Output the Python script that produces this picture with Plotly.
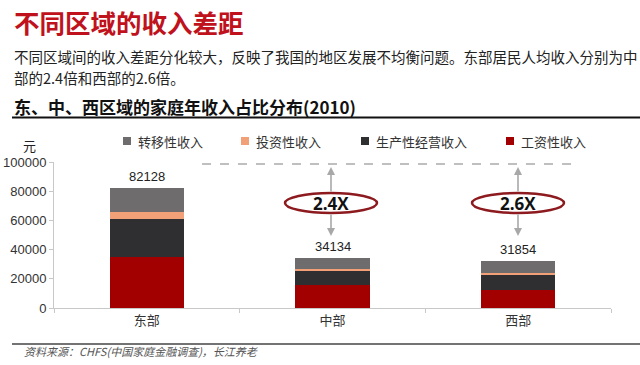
import plotly.graph_objects as go

regions = ["东部", "中部", "西部"]
wage = [34900, 15500, 12000]          # 工资性收入
production = [25900, 10000, 11200]    # 生产性经营收入
investment = [4900, 1000, 900]        # 投资性收入
transfer = [16428, 7634, 7754]        # 转移性收入
totals = [82128, 34134, 31854]
ratios = ["2.4X", "2.6X"]

W, H = 640, 365
L, R, T, B = 54, 29, 162, 57
PW, PH = W - L - R, H - T - B

def px(x):
    return (x - L) / PW

def py(y):
    return (H - B - y) / PH

FONT = "Noto Sans CJK SC"
NUMFONT = "Liberation Sans"

fig = go.Figure()
series = [
    ("工资性收入", wage, "#a20000"),
    ("生产性经营收入", production, "#2f2e30"),
    ("投资性收入", investment, "#f1a077"),
    ("转移性收入", transfer, "#6e6c6c"),
]
for name, vals, col in series:
    fig.add_trace(go.Bar(x=regions, y=vals, name=name, marker=dict(color=col, line=dict(width=0)),
                         width=0.4, showlegend=False))

annotations = []
shapes = []

# manual legend (order as in reference)
legend_pos = {"转移性收入": 127, "投资性收入": 245, "生产性经营收入": 365, "工资性收入": 510}
for name, vals, col in series:
    cx = legend_pos[name]
    shapes.append(dict(type="rect", xref="paper", yref="paper", x0=px(cx - 4), x1=px(cx + 4),
                       y0=py(145), y1=py(137), fillcolor=col, line=dict(width=0)))
    annotations.append(dict(x=px(cx + 9), y=py(141), xref="paper", yref="paper", text=name,
                            showarrow=False, xanchor="left", yanchor="middle",
                            font=dict(size=13, color="#333", family=FONT)))

for r, t in zip(regions, totals):
    annotations.append(dict(x=r, y=t, xref="x", yref="y", text=str(t), showarrow=False,
                            yanchor="bottom", yshift=2, font=dict(size=13, color="#222", family=NUMFONT)))

# header texts
annotations += [
    dict(x=px(12), y=py(21), xref="paper", yref="paper", xanchor="left", yanchor="middle",
         text="<b>不同区域的收入差距</b>", showarrow=False,
         font=dict(size=25.5, color="#c0121c", family=FONT)),
    dict(x=px(12), y=py(56), xref="paper", yref="paper", xanchor="left", yanchor="middle",
         text="不同区域间的收入差距分化较大，反映了我国的地区发展不均衡问题。东部居民人均收入分别为中",
         showarrow=False, font=dict(size=14.5, color="#222", family=FONT)),
    dict(x=px(12), y=py(78), xref="paper", yref="paper", xanchor="left", yanchor="middle",
         text="部的2.4倍和西部的2.6倍。", showarrow=False, font=dict(size=14.5, color="#222", family=FONT)),
    dict(x=px(12), y=py(106), xref="paper", yref="paper", xanchor="left", yanchor="middle",
         text="<b>东、中、西区域的家庭年收入占比分布(2010)</b>", showarrow=False,
         font=dict(size=17, color="#111", family=FONT)),
    dict(x=px(29), y=py(145), xref="paper", yref="paper", xanchor="center", yanchor="middle",
         text="元", showarrow=False, font=dict(size=13, color="#222", family=FONT)),
    dict(x=px(22), y=py(351), xref="paper", yref="paper", xanchor="left", yanchor="middle",
         text="<i>资料来源：CHFS(中国家庭金融调查)，长江养老</i>", showarrow=False,
         font=dict(size=11, color="#555", family=FONT)),
]

shapes += [
    dict(type="line", xref="paper", yref="paper", x0=px(12), x1=px(640), y0=py(117.5), y1=py(117.5),
         line=dict(color="#111", width=2)),
    dict(type="line", xref="paper", yref="paper", x0=px(12), x1=px(640), y0=py(344), y1=py(344),
         line=dict(color="#444", width=1.5)),
    dict(type="line", xref="paper", yref="paper", x0=px(202), x1=px(571), y0=py(164), y1=py(164),
         line=dict(color="#aaaaaa", width=1.6, dash="dash")),
]

for cx, txt in zip([331, 518], ratios):
    shapes.append(dict(type="circle", xref="paper", yref="paper",
                       x0=px(cx - 46), x1=px(cx + 46), y0=py(213), y1=py(193),
                       fillcolor="white", line=dict(color="#8c1a1e", width=2.5)))
    annotations.append(dict(x=px(cx), y=py(203), xref="paper", yref="paper", text="<b>" + txt + "</b>",
                            showarrow=False, xanchor="center", yanchor="middle",
                            font=dict(size=17, color="#111", family="Open Sans")))
    annotations.append(dict(x=px(cx), y=py(167), xref="paper", yref="paper", text="", showarrow=True,
                            ax=0, ay=26, arrowhead=2, arrowsize=1, arrowwidth=1.6, arrowcolor="#a8a8a8",
                            standoff=0, startstandoff=0))
    annotations.append(dict(x=px(cx), y=py(236), xref="paper", yref="paper", text="", showarrow=True,
                            ax=0, ay=-23, arrowhead=2, arrowsize=1, arrowwidth=1.6, arrowcolor="#a8a8a8",
                            standoff=0, startstandoff=0))

fig.update_layout(
    width=W, height=H,
    margin=dict(l=L, r=R, t=T, b=B, autoexpand=False),
    paper_bgcolor="white", plot_bgcolor="rgba(0,0,0,0)",
    barmode="stack",
    font=dict(family=FONT, size=13, color="#333"),
    showlegend=False,
    xaxis=dict(showline=True, linecolor="#c8c8c8", linewidth=1, ticks="outside", tickson="boundaries",
               ticklen=4, tickcolor="#c8c8c8", showgrid=False, tickfont=dict(size=13, color="#333"),
               fixedrange=True),
    yaxis=dict(range=[0, 100000], tickvals=[0, 20000, 40000, 60000, 80000, 100000],
               showline=True, linecolor="#c8c8c8", linewidth=1, ticks="outside", ticklen=4,
               tickcolor="#c8c8c8", showgrid=False, zeroline=False, tickformat="d",
               tickfont=dict(size=13, color="#333", family=NUMFONT), fixedrange=True),
    annotations=annotations,
    shapes=shapes,
)

fig.write_html("out.html", config={"displayModeBar": False},
               post_script="document.body.style.margin='0px';")
